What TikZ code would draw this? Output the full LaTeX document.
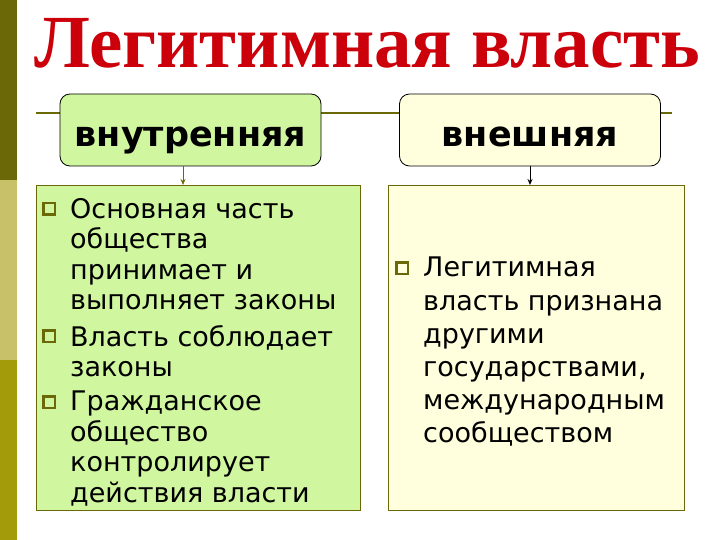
\documentclass[tikz,border=0pt]{standalone}
\usepackage{fontspec}
\setmainfont{DejaVu Sans}
\newfontfamily\titlefont{Liberation Serif}
\usetikzlibrary{positioning,arrows.meta}

\definecolor{olivebar}{RGB}{107,104,8}
\definecolor{khakibar}{RGB}{201,193,106}
\definecolor{mustardbar}{RGB}{163,155,10}
\definecolor{titlered}{RGB}{204,0,10}
\definecolor{lightgreen}{RGB}{208,247,160}
\definecolor{lightyellow}{RGB}{255,255,221}

\tikzset{
	headbox/.style={draw=black, line width=0.8pt, rounded corners=10pt, minimum width=261pt, minimum height=72pt, text height=53pt, text depth=19pt, inner sep=0pt, font=\fontsize{35}{40}\selectfont\bfseries},
	listbox/.style={draw=olivebar, line width=0.8pt, inner sep=0pt, anchor=north west},
	sqbullet/.style={draw=olivebar, line width=2.5pt, minimum size=11.5pt, inner sep=0pt},
	itemtext/.style={anchor=north west, align=left, inner sep=0pt, font=\fontsize{27}{30.5}\selectfont},
	arr/.style={-{Stealth[length=6pt,width=5pt]}, line width=1pt}
}

\begin{document}
\begin{tikzpicture}[x=1pt,y=-1pt]
	\useasboundingbox (0,0) rectangle (720,540);
	\fill[white] (0,0) rectangle (720,540);
	
	% side bar
	\fill[olivebar] (0,0) rectangle (17,180);
	\fill[khakibar] (0,180) rectangle (17,360);
	\fill[mustardbar] (0,360) rectangle (17,540);
	
	\node[anchor=base, inner sep=0pt, text=titlered, font=\titlefont\bfseries\fontsize{75}{80}\selectfont] (title) at (367,68) {Легитимная власть};
	\draw[olivebar, line width=1.5pt] (36,113) -- (672,113);
	
	\node[headbox, fill=lightgreen] (inner) at (190.5,130) {внутренняя};
	\node[headbox, fill=lightyellow] (outer) at (530,130) {внешняя};
	
	\node[listbox, fill=lightgreen, minimum width=324pt, minimum height=325pt] (innerlist) at (36,185) {};
	\node[listbox, fill=lightyellow, minimum width=296pt, minimum height=325pt] (outerlist) at (388,185) {};
	
	\draw[arr, draw=olivebar] ([xshift=-7.5pt]inner.south) -- ([xshift=-7.5pt]inner.south |- innerlist.north);
	\draw[arr] (outer.south) -- (outer.south |- outerlist.north);
	
	\node[itemtext] (i1) at (70,198) {Основная часть\\общества\\принимает и\\выполняет законы};
	\node[itemtext] (i2) at (70,325) {Власть соблюдает\\законы};
	\node[itemtext] (i3) at (70,391) {Гражданское\\общество\\контролирует\\действия власти};
	\node[itemtext, font=\fontsize{27}{33.2}\selectfont] (o1) at (423,257) {Легитимная\\власть признана\\другими\\государствами,\\международным\\сообществом};
	
	\foreach \t in {i1,i2,i3,o1}{
		\node[sqbullet] at ([xshift=-21pt,yshift=-11pt]\t.north west) {};
	}
\end{tikzpicture}
\end{document}
